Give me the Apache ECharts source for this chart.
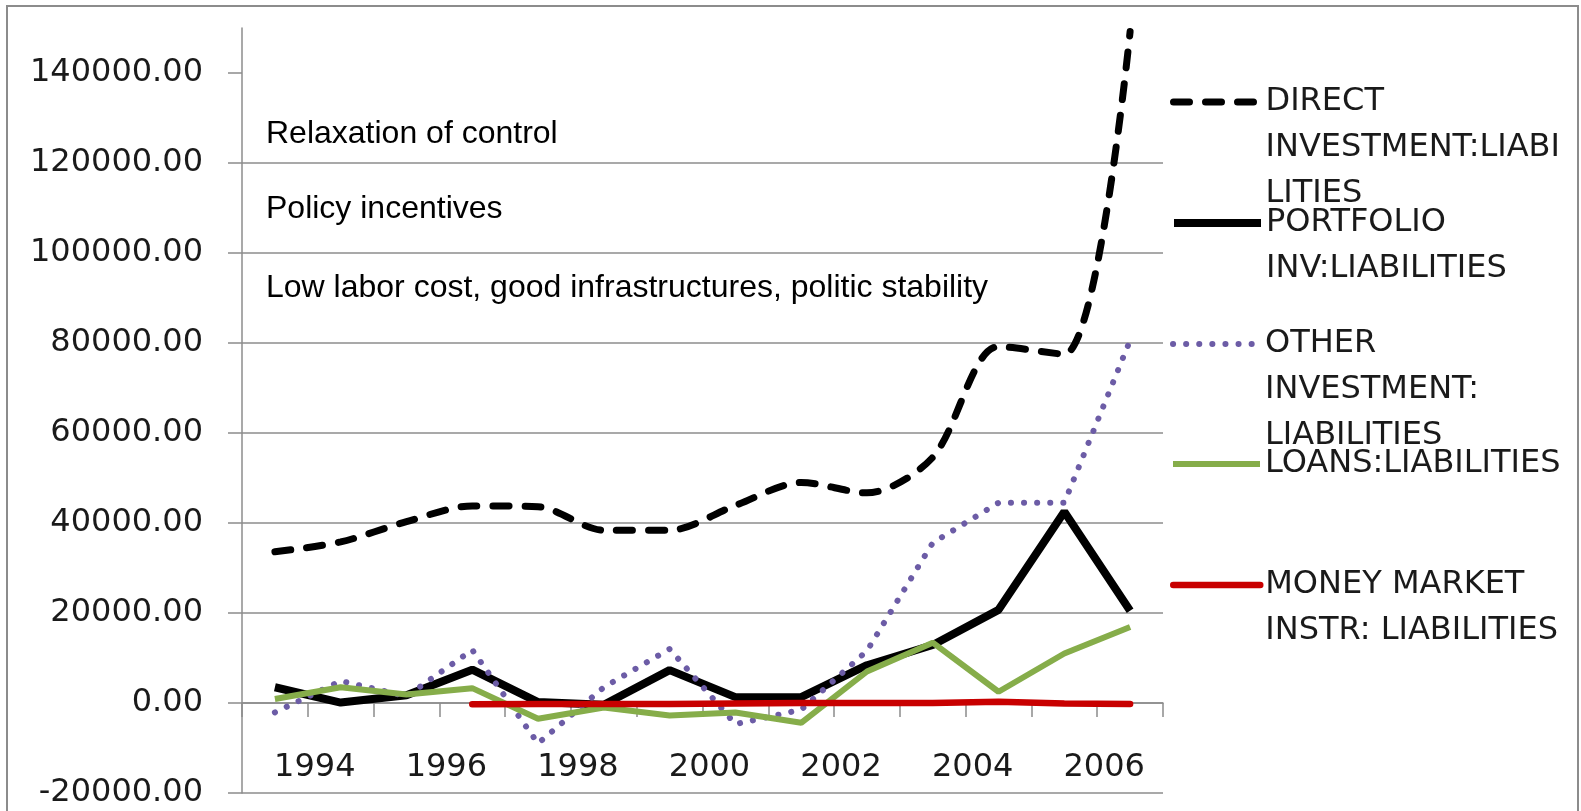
<!DOCTYPE html>
<html>
<head>
<meta charset="utf-8">
<script src="https://cdn.jsdelivr.net/npm/echarts@6/dist/echarts.min.js"></script>
<style>
html,body{margin:0;padding:0;background:#fff;}
#chart{width:1581px;height:811px;}
</style>
</head>
<body>
<div id="chart"></div>
<script>
// ---- data ----
var years = ['1993','1994','1995','1996','1997','1998','1999','2000','2001','2002','2003','2004','2005','2006'];
var directInvestment = [33600, 35800, 40300, 43800, 43600, 38400, 38400, 43900, 49000, 46700, 54600, 79200, 77500, 149200];
var portfolioInv = [3500, 100, 1700, 7400, 200, -400, 7300, 1300, 1300, 8400, 12900, 20700, 42500, 20500];
var otherInvestment = [-2100, 4900, 1500, 11800, -9000, 3500, 12000, -4700, -1500, 11600, 35600, 44500, 44500, 80600];
var loans = [900, 3500, 1900, 3300, -3500, -1000, -2800, -2100, -4400, 7000, 13400, 2500, 11000, 16900];
var moneyMarket = [null, null, null, -300, -200, -200, -200, -100, 0, 0, 0, 300, -100, -200];
var yTicks = [-20000, 0, 20000, 40000, 60000, 80000, 100000, 120000, 140000];
var xTickLabels = ['', '1994', '', '1996', '', '1998', '', '2000', '', '2002', '', '2004', '', '2006', ''];
var seriesNames = ['DIRECT INVESTMENT:LIABILITIES', 'PORTFOLIO INV:LIABILITIES', 'OTHER INVESTMENT: LIABILITIES', 'LOANS:LIABILITIES', 'MONEY MARKET INSTR: LIABILITIES'];
var legendLines = [['DIRECT','INVESTMENT:LIABI','LITIES'], ['PORTFOLIO','INV:LIABILITIES'], ['OTHER','INVESTMENT:','LIABILITIES'], ['LOANS:LIABILITIES'], ['MONEY MARKET','INSTR: LIABILITIES']];
var annotations = ['Relaxation of control', 'Policy incentives', 'Low labor cost, good infrastructures, politic stability'];

// ---- styles ----
var FONT = 'DejaVu Sans';
var gray = '#8c8c8c';
var lineStyles = [
  {color:'#000000', width:7, type:[16,16], cap:'round'},
  {color:'#000000', width:8, type:'solid'},
  {color:'#6c5ca6', width:6, type:[0.1,13], cap:'round'},
  {color:'#86ad4a', width:6, type:'solid'},
  {color:'#c80000', width:6.5, type:'solid', cap:'round'}
];
var seriesData = [directInvestment, portfolioInv, otherInvestment, loans, moneyMarket];
var iconCenters = [102, 223, 344, 464, 585];
var annotationY = [134, 209.5, 288];
var LH = 46;

var chart = echarts.init(document.getElementById('chart'), null, {renderer:'canvas'});

var series = seriesNames.map(function(n, i){
  return {
    type:'line', name:n, data:seriesData[i], symbol:'none', xAxisIndex:0,
    smooth: i === 0 ? 0.3 : false,
    itemStyle:{color:lineStyles[i].color},
    lineStyle: lineStyles[i], z: 2 + i, animation:false
  };
});

var legends = seriesNames.map(function(n, i){
  var nl = legendLines[i].length;
  var pre = '';
  for (var k = 0; k < nl - 1; k++) pre += '\n';
  return {
    data:[n], orient:'vertical', left:1170, top: iconCenters[i] - (2*nl-1)*LH/2,
    padding:0, itemWidth:87, itemHeight:14, itemGap:0, selectedMode:false,
    formatter: function(){ return pre + legendLines[i].join('\n'); },
    textStyle:{fontFamily:FONT, fontSize:32, color:'#1a1a1a', lineHeight:LH},
    itemStyle:{opacity:0, color:'rgba(0,0,0,0)', borderWidth:0},
    lineStyle: lineStyles[i]
  };
});

var graphics = annotations.map(function(t, i){
  return {type:'text', x:266, y:annotationY[i], style:{text:t, font:'32px "Liberation Sans"', fill:'#000', verticalAlign:'middle'}};
});
graphics.push({type:'rect', shape:{x:7, y:6, width:1571, height:830}, style:{fill:'none', stroke:gray, lineWidth:2}});

chart.setOption({
  animation:false,
  backgroundColor:'#ffffff',
  grid:{left:242, right:418, top:28, bottom:18, containLabel:false, outerBoundsMode:'none'},
  legend: legends,
  xAxis:[{
    type:'category', data:years, boundaryGap:true, position:'top',
    axisLine:{show:true, onZero:true, lineStyle:{color:gray, width:1.5}},
    axisTick:{show:true, interval:0, length:14, inside:true, lineStyle:{color:gray, width:1.5}},
    axisLabel:{show:false},
    splitLine:{show:false}
  },{
    type:'category', data:xTickLabels, boundaryGap:false, position:'bottom',
    axisLine:{show:false, onZero:false},
    axisTick:{show:false},
    axisLabel:{show:true, interval:0, inside:true, margin:9, fontFamily:FONT, fontSize:32, lineHeight:32, color:'#1a1a1a', padding:[0,0,0,14]},
    splitLine:{show:false}
  }],
  yAxis:{
    type:'value', min:-20000, max:150000, interval:20000,
    axisLine:{show:true, lineStyle:{color:gray, width:1.5}},
    axisTick:{show:true, length:14, customValues:yTicks, lineStyle:{color:gray, width:1.5}},
    axisLabel:{customValues:yTicks, margin:39, fontFamily:FONT, fontSize:32, color:'#1a1a1a', formatter:function(v){return Number(v).toFixed(2);}},
    splitLine:{show:true, showMaxLine:false, lineStyle:{color:gray, width:1.5}}
  },
  graphic: graphics,
  series: series
});
</script>
</body>
</html>
